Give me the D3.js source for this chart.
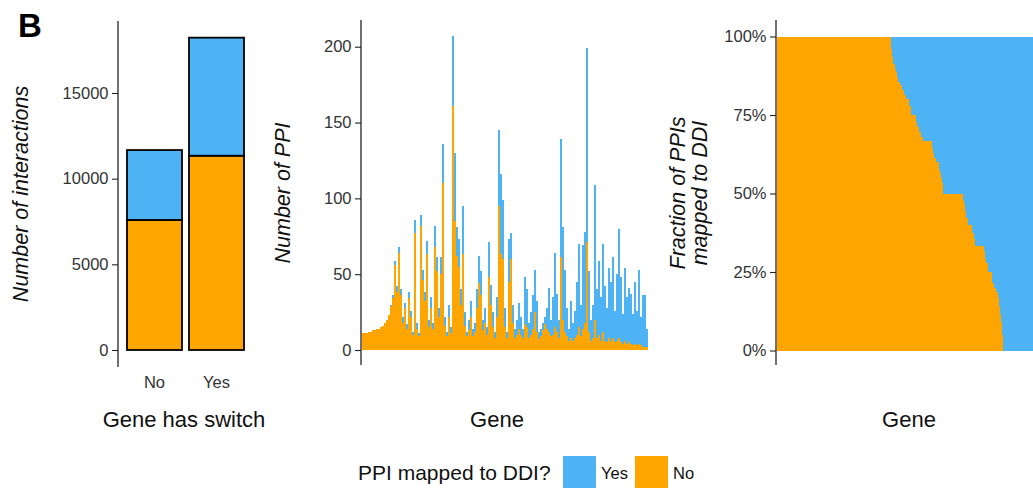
<!DOCTYPE html>
<html>
<head>
<meta charset="utf-8">
<script src="https://cdn.jsdelivr.net/npm/d3@7"></script>
<style>
  html, body { margin: 0; padding: 0; background: #fff; }
  svg { display: block; font-family: "Liberation Sans", Arial, sans-serif; }
</style>
</head>
<body>
<svg id="chart" width="1033" height="491"></svg>
<script>
// ---------- Data ----------
// Panel 1: interactions by whether gene has a switch
const switchCategories = ["No", "Yes"];
const interactionsNo  = [7590, 11340];   // PPI not mapped to DDI
const interactionsYes = [4080, 6890];    // PPI mapped to DDI
const interactionTicks = [0, 5000, 10000, 15000];

// Panel 2: number of PPI per gene (genes in plotted order)
const ppiNo = [11,11,11,12,12,13,13,14,14,15,16,18,20,23,29,34,56,38,64,36,
  18,28,14,34,22,10,77,14,9,82,46,32,63,15,28,14,68,52,22,50,
  110,16,9,22,11,161,85,62,55,30,63,16,9,13,22,9,12,28,44,36,
  13,18,10,48,30,15,8,22,95,63,60,15,8,45,60,18,8,10,14,10,
  8,17,15,8,10,14,25,12,7,9,13,17,14,12,9,10,15,12,8,61,
  20,12,9,6,8,6,8,10,15,9,14,18,71,12,6,8,20,8,10,6,
  12,6,5,8,6,8,5,6,8,5,4,6,4,5,4,3,4,3,4,3,
  2,2,2];
const ppiYes = [0,0,0,0,0,0,0,0,0,0,0,0,0,0,1,2,3,4,4,4,
  4,3,3,4,4,2,9,4,2,7,7,6,9,5,7,4,14,9,6,11,
  26,6,3,8,4,46,45,19,18,10,32,9,3,7,10,5,6,12,18,16,
  7,10,5,23,13,10,4,13,50,53,39,13,4,28,17,12,6,10,17,12,
  6,31,25,10,15,22,28,20,5,5,5,5,14,29,11,25,49,25,12,78,
  61,41,19,8,24,12,18,35,55,21,55,60,128,40,14,22,89,32,49,29,
  58,36,23,46,39,53,21,44,72,43,20,48,31,36,33,21,41,23,49,19,
  34,34,12];
const ppiTicks = [0, 50, 100, 150, 200];

// Panel 3: fraction of PPIs NOT mapped to DDI, per gene (run lengths, sorted)
const fracNoSteps = [1, 0.96, 0.935, 0.913, 0.898, 0.887, 0.871, 0.855, 0.845, 0.829,
  0.813, 0.8, 0.778, 0.75, 0.729, 0.713, 0.697, 0.681, 0.667, 0.644,
  0.628, 0.612, 0.6, 0.575, 0.565, 0.549, 0.533, 0.5, 0.48, 0.465,
  0.444, 0.422, 0.4, 0.375, 0.354, 0.333, 0.317, 0.29, 0.28, 0.25,
  0.216, 0.2, 0.185, 0.169, 0.143, 0.116, 0.09, 0.048, 0];
const fracGeneCounts = [114, 1, 1, 2, 1, 1, 1, 2, 2, 2,
  2, 3, 2, 5, 1, 2, 2, 2, 9, 1,
  1, 2, 3, 1, 1, 1, 1, 20, 1, 1,
  1, 2, 4, 2, 1, 9, 1, 1, 2, 4,
  2, 2, 2, 1, 1, 1, 1, 1, 30];
const fracTicks = [0, 0.25, 0.5, 0.75, 1];

const legendLabels = ["Yes", "No"];
const COL_YES = "#4DB3F5";
const COL_NO  = "#FFA500";

// ---------- Drawing ----------
const svg = d3.select("#chart");
svg.append("rect").attr("width", 1033).attr("height", 491).attr("fill", "#fff");

const TICK_FONT = "16.5px";
const TITLE_FONT = "22px";

function styleAxis(g) {
  g.select(".domain").remove();
  g.selectAll(".tick line").attr("stroke", "#222").attr("stroke-width", 1.1);
  g.selectAll(".tick text").attr("fill", "#333").style("font-size", TICK_FONT);
}
function axisLine(x, y0, y1) {
  svg.append("line").attr("x1", x).attr("x2", x).attr("y1", y0).attr("y2", y1)
    .attr("stroke", "#111").attr("stroke-width", 1.2);
}
function yTitle(x, y, lines) {
  const t = svg.append("text")
    .attr("transform", `translate(${x},${y}) rotate(-90)`)
    .attr("text-anchor", "middle")
    .style("font-size", "21.5px").style("font-style", "italic").attr("fill", "#111");
  lines.forEach((s, i) => {
    t.append("tspan").attr("x", 0).attr("dy", i === 0 ? 0 : "1.0em").text(s);
  });
}

// Panel label
svg.append("text").attr("x", 18).attr("y", 37).text("B")
  .style("font-size", "33px").style("font-weight", "bold").attr("fill", "#000");

// ---- Panel 1 ----
const x1 = d3.scaleBand().domain(switchCategories).range([120.8, 250.2])
  .paddingInner(0.113).paddingOuter(0.1);
const y1 = d3.scaleLinear().domain([0, 15000]).range([350, 93]);

switchCategories.forEach((c, i) => {
  const no = interactionsNo[i], yes = interactionsYes[i];
  svg.append("rect").attr("x", x1(c)).attr("width", x1.bandwidth())
    .attr("y", y1(no)).attr("height", y1(0) - y1(no))
    .attr("fill", COL_NO).attr("stroke", "#000").attr("stroke-width", 1.8);
  svg.append("rect").attr("x", x1(c)).attr("width", x1.bandwidth())
    .attr("y", y1(no + yes)).attr("height", y1(no) - y1(no + yes))
    .attr("fill", COL_YES).attr("stroke", "#000").attr("stroke-width", 1.8);
});
axisLine(118, 21, 367);
svg.append("g").attr("transform", "translate(118,0)")
  .call(d3.axisLeft(y1).tickValues(interactionTicks).tickSize(6).tickPadding(3.5).tickFormat(d3.format("d")))
  .call(styleAxis);
switchCategories.forEach(c => {
  svg.append("text").attr("x", x1(c) + x1.bandwidth() / 2).attr("y", 388)
    .attr("text-anchor", "middle").style("font-size", TICK_FONT).attr("fill", "#333").text(c);
});
svg.append("text").attr("x", 184).attr("y", 427).attr("text-anchor", "middle")
  .style("font-size", TITLE_FONT).attr("fill", "#111").text("Gene has switch");
yTitle(28, 194, ["Number of interactions"]);

// ---- Panel 2 ----
const genes2 = d3.range(ppiNo.length);
const x2 = d3.scaleBand().domain(genes2).range([362, 648]).padding(0);
const y2 = d3.scaleLinear().domain([0, 200]).range([350, 46.7]);
const g2 = svg.append("g").attr("shape-rendering", "crispEdges");
g2.selectAll("rect.no").data(genes2).join("rect")
  .attr("x", i => x2(i)).attr("width", x2.bandwidth())
  .attr("y", i => y2(ppiNo[i])).attr("height", i => y2(0) - y2(ppiNo[i]))
  .attr("fill", COL_NO);
g2.selectAll("rect.yes").data(genes2.filter(i => ppiYes[i] > 0)).join("rect")
  .attr("x", i => x2(i)).attr("width", x2.bandwidth())
  .attr("y", i => y2(ppiNo[i] + ppiYes[i])).attr("height", i => y2(ppiNo[i]) - y2(ppiNo[i] + ppiYes[i]))
  .attr("fill", COL_YES);
axisLine(361, 20, 365);
svg.append("g").attr("transform", "translate(361,0)")
  .call(d3.axisLeft(y2).tickValues(ppiTicks).tickSize(6).tickPadding(3.5))
  .call(styleAxis);
svg.append("text").attr("x", 497).attr("y", 427).attr("text-anchor", "middle")
  .style("font-size", TITLE_FONT).attr("fill", "#111").text("Gene");
yTitle(290, 193, ["Number of PPI"]);

// ---- Panel 3 ----
const fracPerGene = [];
fracNoSteps.forEach((f, k) => { for (let j = 0; j < fracGeneCounts[k]; j++) fracPerGene.push(f); });
const genes3 = d3.range(fracPerGene.length);
const x3 = d3.scaleBand().domain(genes3).range([777, 1033]).padding(0);
const y3 = d3.scaleLinear().domain([0, 1]).range([350.5, 36.5]);
const g3 = svg.append("g").attr("shape-rendering", "crispEdges");
g3.selectAll("rect.yes").data(genes3).join("rect")
  .attr("x", i => x3(i)).attr("width", x3.bandwidth())
  .attr("y", y3(1)).attr("height", i => y3(fracPerGene[i]) - y3(1))
  .attr("fill", COL_YES);
g3.selectAll("rect.no").data(genes3.filter(i => fracPerGene[i] > 0)).join("rect")
  .attr("x", i => x3(i)).attr("width", x3.bandwidth())
  .attr("y", i => y3(fracPerGene[i])).attr("height", i => y3(0) - y3(fracPerGene[i]))
  .attr("fill", COL_NO);
axisLine(776, 20, 365);
svg.append("g").attr("transform", "translate(776,0)")
  .call(d3.axisLeft(y3).tickValues(fracTicks).tickSize(6).tickPadding(3.5).tickFormat(d3.format(".0%")))
  .call(styleAxis);
svg.append("text").attr("x", 909).attr("y", 427).attr("text-anchor", "middle")
  .style("font-size", TITLE_FONT).attr("fill", "#111").text("Gene");
yTitle(685, 193, ["Fraction of PPIs", "mapped to DDI"]);

// ---- Legend ----
svg.append("text").attr("x", 358).attr("y", 480)
  .style("font-size", "21px").attr("fill", "#111").text("PPI mapped to DDI?");
const legendColors = [COL_YES, COL_NO];
const legendX = [563, 635];
legendLabels.forEach((lab, i) => {
  svg.append("rect").attr("x", legendX[i]).attr("y", 456).attr("width", 33).attr("height", 32)
    .attr("fill", legendColors[i]);
  svg.append("text").attr("x", legendX[i] + 38).attr("y", 479)
    .style("font-size", TICK_FONT).attr("fill", "#111").text(lab);
});
</script>
</body>
</html>
